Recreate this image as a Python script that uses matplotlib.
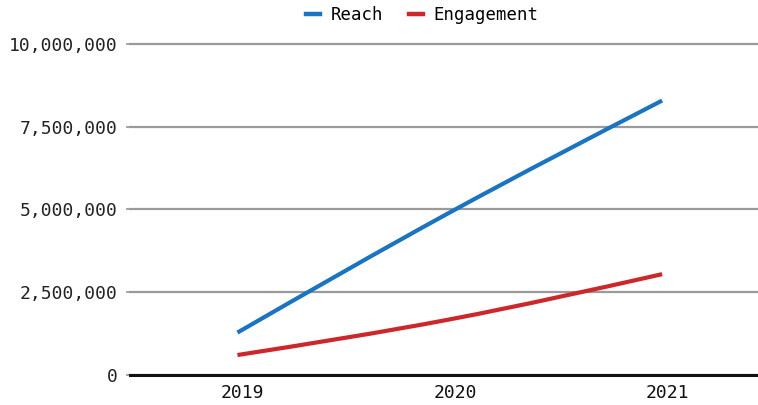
import matplotlib
matplotlib.use("Agg")
import matplotlib.pyplot as plt
from matplotlib.path import Path
from matplotlib.patches import PathPatch
from matplotlib.lines import Line2D
from matplotlib.ticker import FuncFormatter

years = [2019, 2020, 2021]
year_labels = ["2019", "2020", "2021"]
reach = [1270000, 4910000, 8300000]
engagement = [590000, 1670000, 3040000]
y_ticks = [0, 2500000, 5000000, 7500000, 10000000]

BLUE = "#1b74bf"
RED = "#cc272b"


def monotone_path(xs, ys):
    # smooth monotone curve (like d3 curveMonotoneX) as bezier segments
    n = len(xs)
    h = [xs[i + 1] - xs[i] for i in range(n - 1)]
    s = [(ys[i + 1] - ys[i]) / h[i] for i in range(n - 1)]
    t = [0.0] * n
    for i in range(1, n - 1):
        if s[i - 1] * s[i] > 0:
            p = (s[i - 1] * h[i] + s[i] * h[i - 1]) / (h[i - 1] + h[i])
            m = min(abs(s[i - 1]), abs(s[i]), 0.5 * abs(p))
            t[i] = 2 * m if s[i] > 0 else -2 * m
    t[0] = (3 * s[0] - t[1]) / 2
    t[-1] = (3 * s[-1] - t[-2]) / 2
    verts = [(xs[0], ys[0])]
    codes = [Path.MOVETO]
    for i in range(n - 1):
        d = h[i] / 3
        verts += [(xs[i] + d, ys[i] + t[i] * d),
                  (xs[i + 1] - d, ys[i + 1] - t[i + 1] * d),
                  (xs[i + 1], ys[i + 1])]
        codes += [Path.CURVE4] * 3
    return Path(verts, codes)


plt.rcParams["font.family"] = ["DejaVu Sans Mono"]

fig = plt.figure(figsize=(7.58, 4.05), dpi=100)
ax = fig.add_axes([0.1715, 0.0753, 0.827, 0.815])

for vals, col in [(reach, BLUE), (engagement, RED)]:
    patch = PathPatch(monotone_path(years, vals), fill=False, edgecolor=col,
                      lw=3, capstyle="butt", zorder=3)
    ax.add_patch(patch)

ax.set_xlim(2018.494, 2021.446)
ax.set_ylim(0, 10000000)
ax.set_xticks([y + 0.025 for y in years])
ax.set_xticklabels(year_labels)
ax.set_yticks(y_ticks)
ax.yaxis.set_major_formatter(FuncFormatter(lambda v, _: f"{int(v):,}"))

ax.grid(axis="y", color="#9a9a9a", lw=1.6)
for gl in ax.yaxis.get_gridlines():
    gl.set_clip_on(False)
ax.set_axisbelow(True)
for side in ["top", "right", "left"]:
    ax.spines[side].set_visible(False)
ax.spines["bottom"].set_color("#111111")
ax.spines["bottom"].set_linewidth(2.2)
ax.spines["bottom"].set_zorder(4)

ax.tick_params(axis="x", length=0, pad=7, labelsize=13, labelcolor="#111111")
ax.tick_params(axis="y", length=3, width=1.2, color="#9a9a9a", pad=6,
               labelsize=13, labelcolor="#222222")

handles = [Line2D([], [], color=BLUE, lw=3.2), Line2D([], [], color=RED, lw=3.2)]
fig.legend(handles, ["Reach", "Engagement"], loc="center", ncol=2,
           bbox_to_anchor=(0.557, 1 - 15 / 405), frameon=False, fontsize=12.5,
           handlelength=0.8, handletextpad=0.6, columnspacing=1.5)

fig.savefig("out.png", dpi=100)
